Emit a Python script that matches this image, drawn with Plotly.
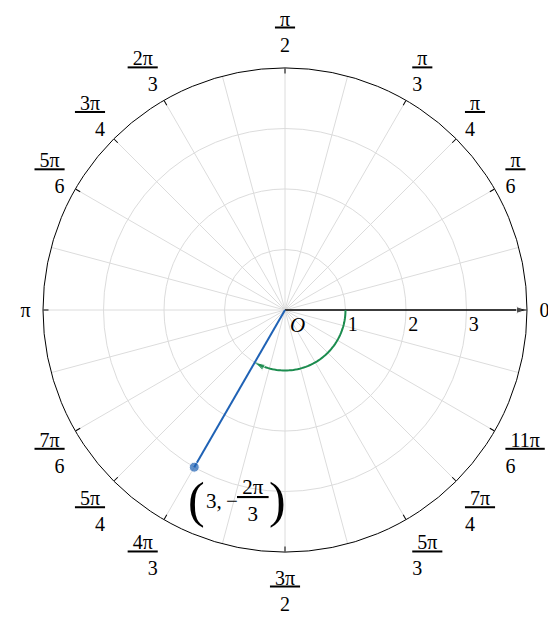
import numpy as np
import plotly.graph_objects as go

# ---- data ----
label_angles = [0, 30, 45, 60, 90, 120, 135, 150, 180, 210, 225, 240, 270, 300, 315, 330]
label_num = ["0", "π", "π", "π", "π", "2π", "3π", "5π", "π", "7π", "5π", "4π", "3π", "5π", "7π", "11π"]
label_den = [None, "6", "4", "3", "2", "3", "4", "6", None, "6", "4", "3", "2", "3", "4", "6"]
grid_angles = list(range(0, 360, 15))
radial_ticks = [1, 2, 3]
r_max = 4
point_r = 3
point_theta = -120  # degrees  (-2π/3)
arc_r = 1

NB = "\u00a0"
def frac(n, d):
    if d is None:
        return n
    return "<u>" + NB + n + NB + "</u><br>" + d

ticktext = [frac(n, d) for n, d in zip(label_num, label_den)]

# page body has an 8px margin -> figure coordinates are screen minus 8
W, H = 556, 618
cx, cy, R = 277, 302, 242
xdom = [(cx - R) / W, (cx + R) / W]
ydom = [(H - cy - R) / H, (H - cy + R) / H]

SERIF = "Liberation Serif"
GRID = "#dcdcdc"
BLUE = "#1f62b5"
GREEN = "#1b8c4e"

fig = go.Figure()

# invisible anchors so that the grid and tick subplots get drawn
for sp in ["polar", "polar3"]:
    fig.add_trace(go.Scatterpolar(r=[0], theta=[0], mode="markers", subplot=sp,
                                  marker=dict(opacity=0, size=1),
                                  hoverinfo="skip", showlegend=False))

# positive x-axis arrow
fig.add_trace(go.Scatterpolar(
    r=[0, r_max], theta=[0, 0], mode="lines+markers", subplot="polar2",
    line=dict(color="black", width=1.5),
    marker=dict(symbol="arrow", size=[0, 11], angleref="previous", color="black"),
    hoverinfo="skip", showlegend=False))

# green arc arrow from 0 to point_theta
arc_t = np.linspace(0, point_theta, 61)
sizes = [0] * (len(arc_t) - 1) + [11]
fig.add_trace(go.Scatterpolar(
    r=[arc_r] * len(arc_t), theta=arc_t, mode="lines+markers", subplot="polar2",
    line=dict(color=GREEN, width=2),
    marker=dict(symbol="arrow", size=sizes, angleref="previous", color=GREEN),
    hoverinfo="skip", showlegend=False))

# blue segment to the point
fig.add_trace(go.Scatterpolar(
    r=[0, point_r], theta=[point_theta, point_theta], mode="lines+markers", subplot="polar2",
    line=dict(color=BLUE, width=2),
    marker=dict(symbol="circle", size=[0, 10], color=BLUE),
    hoverinfo="skip", showlegend=False))

fig.update_layout(
    width=W, height=H, margin=dict(l=0, r=0, t=0, b=0),
    paper_bgcolor="white", plot_bgcolor="white",
    polar=dict(
        domain=dict(x=xdom, y=ydom), bgcolor="white",
        angularaxis=dict(tickmode="array", tickvals=grid_angles, ticks="",
                         showticklabels=False, showgrid=True, gridcolor=GRID,
                         gridwidth=1, showline=False, direction="counterclockwise",
                         rotation=0),
        radialaxis=dict(range=[0, r_max], tickmode="array", tickvals=radial_ticks,
                        showticklabels=False,
                        showgrid=True, gridcolor=GRID, gridwidth=1, showline=False,
                        ticks="", angle=0),
    ),
    polar2=dict(
        domain=dict(x=xdom, y=ydom), bgcolor="rgba(0,0,0,0)",
        angularaxis=dict(tickmode="array", tickvals=label_angles, ticktext=ticktext,
                         ticks="outside", ticklen=8, tickcolor="rgba(0,0,0,0)",
                         showgrid=False, showline=True, linecolor="black", linewidth=1,
                         direction="counterclockwise", rotation=0,
                         tickfont=dict(family=SERIF, size=20, color="black")),
        radialaxis=dict(range=[0, r_max], visible=False),
    ),
    polar3=dict(
        domain=dict(x=xdom, y=ydom), bgcolor="rgba(0,0,0,0)",
        angularaxis=dict(tickmode="array", tickvals=label_angles, ticks="inside",
                         ticklen=5, tickwidth=1, tickcolor="black",
                         showticklabels=False, showgrid=False, showline=False,
                         direction="counterclockwise", rotation=0),
        radialaxis=dict(range=[0, r_max], tickmode="array",
                        tickvals=[v + 0.12 for v in radial_ticks],
                        ticktext=[str(v) for v in radial_ticks],
                        showgrid=False, showline=False, ticks="", angle=0,
                        side="clockwise",
                        tickfont=dict(family=SERIF, size=20, color="black")),
    ),
    xaxis=dict(domain=xdom, range=[-r_max, r_max], visible=False, fixedrange=True),
    yaxis=dict(domain=ydom, range=[-r_max, r_max], visible=False, fixedrange=True),
)

# origin label
fig.add_annotation(x=0, y=0, xref="x", yref="y", text="<i>O</i>", showarrow=False,
                   xshift=12, yshift=-15, font=dict(family=SERIF, size=21, color="black"))

# point label  (3, -2π/3)
px = point_r * np.cos(np.radians(point_theta))
py = point_r * np.sin(np.radians(point_theta))
parts = [
    ("(", 50, 2, -33),
    ("3,\u2009−", 21, 28, -34),
    ("<u>" + NB + "2π" + NB + "</u><br>3", 21, 59, -33),
    (")", 50, 83, -33),
]
for txt, fs, xs, ys in parts:
    fig.add_annotation(x=px, y=py, xref="x", yref="y", text=txt, showarrow=False,
                       xshift=xs, yshift=ys, font=dict(family=SERIF, size=fs, color="black"))

fig.write_html("out.html")
